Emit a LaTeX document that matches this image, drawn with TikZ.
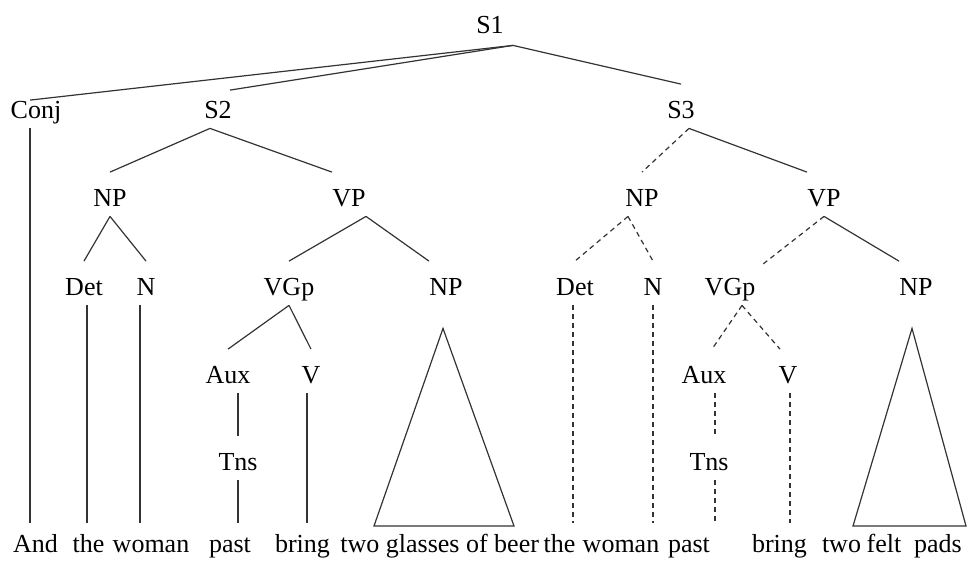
\documentclass[tikz,border=0pt]{standalone}
\usepackage{fontspec}
\setmainfont{Liberation Serif}
\begin{document}
\begin{tikzpicture}[x=0.5pt,y=-0.5pt,
  lab/.style={font=\fontsize{13}{15}\selectfont, text=black, inner sep=0pt, anchor=base, text height=16.75pt, text depth=5pt},
  word/.style={lab, text height=14.5pt},
  ln/.style={line width=0.6pt, draw=black!80},
  dsh/.style={ln, dash pattern=on 2.5pt off 2pt}]
\useasboundingbox (0,0) rectangle (970,563);

% labels
\node[lab] (S1) at (490,33) {S1};
\node[lab] (Conj) at (36,118) {Conj};
\node[lab] (S2) at (218,118) {S2};
\node[lab] (S3) at (681,118) {S3};
\node[lab] (NP) at (110,206) {NP};
\node[lab] (VP) at (349,206) {VP};
\node[lab] (NPb) at (642,206) {NP};
\node[lab] (VPb) at (824,206) {VP};
\node[lab] (Det) at (84,295) {Det};
\node[lab] (N) at (146,295) {N};
\node[lab] (VGp) at (289,295) {VGp};
\node[lab] (NPtwo) at (446,295) {NP};
\node[lab] (Detb) at (575,295) {Det};
\node[lab] (Nb) at (653,295) {N};
\node[lab] (VGpb) at (730,295) {VGp};
\node[lab] (NPtwob) at (916,295) {NP};
\node[lab] (Aux) at (228,383) {Aux};
\node[lab] (V) at (311,383) {V};
\node[lab] (Auxb) at (704,383) {Aux};
\node[lab] (Vb) at (788,383) {V};
\node[lab] (Tns) at (238,470) {Tns};
\node[lab] (Tnsb) at (709,470) {Tns};

% words
\node[word] (And) at (35.5,552) {And};
\node[word] (theA) at (88.5,552) {the};
\node[word] (womanA) at (151,552) {woman};
\node[word] (pastA) at (230,552) {past};
\node[word] (bringA) at (302.5,552) {bring};
\node[word, anchor=base west] (glasses) at (340,552) {two glasses of beer};
\node[word] (theB) at (559.5,552) {the};
\node[word] (womanB) at (621,552) {woman};
\node[word] (pastB) at (689,552) {past};
\node[word] (bringB) at (779.5,552) {bring};
\node[word] (twoB) at (841.5,552) {two};
\node[word] (felt) at (884,552) {felt};
\node[word] (pads) at (938,552) {pads};

% S1 branches
\coordinate (A) at ([xshift=11.5pt,yshift=-1pt]S1.south);
\draw[ln] (A) -- ([xshift=-3pt,yshift=-8pt]Conj.north);
\draw[ln] (A) -- ([xshift=6pt,yshift=-3pt]S2.north);
\draw[ln] (A) -- (S3.north);

% S2
\draw[ln] ([xshift=-4pt]S2.south) -- (NP.north);
\draw[ln] ([xshift=-4pt]S2.south) -- (VP.north west);
% S3
\draw[dsh] ([xshift=4pt]S3.south) -- (NPb.north);
\draw[ln] ([xshift=4pt]S3.south) -- (VPb.north west);

% NP / VP (left)
\draw[ln] (NP.south) -- (Det.north);
\draw[ln] (NP.south) -- (N.north);
\draw[ln] (VP.south east) -- (VGp.north);
\draw[ln] (VP.south east) -- (NPtwo.north west);

% NP / VP (right)
\draw[dsh] ([xshift=-7pt]NPb.south) -- (Detb.north);
\draw[dsh] ([xshift=-7pt]NPb.south) -- (Nb.north);
\draw[dsh] (VPb.south) -- ([xshift=3pt,yshift=-2pt]VGpb.north east);
\draw[ln] (VPb.south) -- (NPtwob.north west);

% VGp
\draw[ln] (VGp.south) -- (Aux.north);
\draw[ln] (VGp.south) -- (V.north);
\draw[dsh] ([xshift=6pt]VGpb.south) -- ([xshift=4pt]Auxb.north);
\draw[dsh] ([xshift=6pt]VGpb.south) -- ([xshift=-4pt]Vb.north);

% verticals (left)
\draw[ln] ([xshift=-3pt]Conj.south) -- ([xshift=-3pt]Conj.south |- And.north);
\draw[ln] ([xshift=1.5pt]Det.south) -- ([xshift=1.5pt]Det.south |- theA.north);
\draw[ln] ([xshift=-3pt]N.south) -- ([xshift=-3pt]N.south |- womanA.north);
\draw[ln] (Tns.north |- Aux.south) -- (Tns.north);
\draw[ln] (Tns.south) -- (Tns.south |- pastA.north);
\draw[ln] ([xshift=-2pt]V.south) -- ([xshift=-2pt]V.south |- bringA.north);

% verticals (right, dashed)
\draw[dsh] ([xshift=-1pt]Detb.south) -- ([xshift=-1pt]Detb.south |- theB.north);
\draw[dsh] (Nb.south) -- (Nb.south |- womanB.north);
\draw[dsh] ([xshift=3pt]Tnsb.north |- Auxb.south) -- ([xshift=3pt]Tnsb.north);
\draw[dsh] ([xshift=3pt]Tnsb.south) -- ([xshift=3pt]Tnsb.south |- pastB.north);
\draw[dsh] ([xshift=1pt]Vb.south) -- ([xshift=1pt]Vb.south |- bringB.north);

% triangles
\draw[ln] ([xshift=-1.5pt,yshift=-11.5pt]NPtwo.south) -- (374,526) -- (514,526) -- cycle;
\draw[ln] ([xshift=-2pt,yshift=-11.5pt]NPtwob.south) -- (853,526) -- (966,526) -- cycle;
\end{tikzpicture}
\end{document}
